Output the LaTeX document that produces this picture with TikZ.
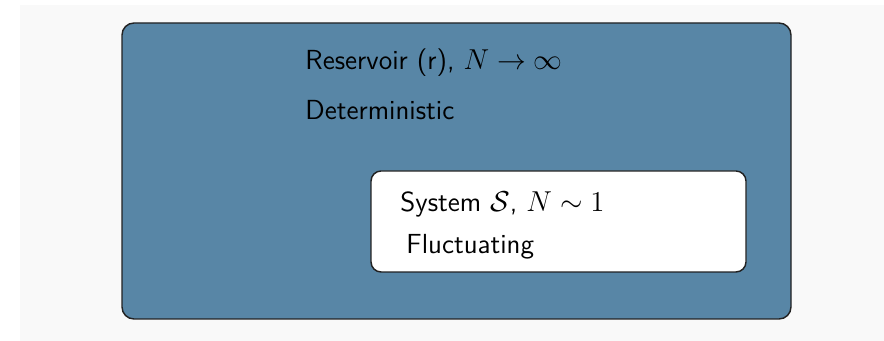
\documentclass[tikz,border=0pt]{standalone}
\usepackage{tikz}
\usepackage{xcolor}

\definecolor{slidegray}{RGB}{249,249,249}
\definecolor{reservoirblue}{RGB}{88,134,166}
\definecolor{edgegray}{RGB}{34,34,34}

\tikzset{
  reservoirbox/.style={draw=edgegray,fill=reservoirblue,line width=0.6pt,rounded corners=5pt},
  systembox/.style={draw=edgegray,fill=white,line width=0.6pt,rounded corners=4.2pt},
  boxtext/.style={anchor=base west,inner sep=0pt,font=\fontsize{11.5pt}{13pt}\selectfont\sffamily}
}

\begin{document}
\begin{tikzpicture}[x=0.4167pt,y=-0.4167pt]
		\useasboundingbox (0,0) rectangle (884,341);
		\fill[slidegray] (20,5) rectangle (884,341);
		% reservoir
		\draw[reservoirbox] (122,23) rectangle (791,319);
		\node[boxtext] (res) at (305,70) {Reservoir (r), $N\to\infty$};
		\node[boxtext] (det) at (305,120) {Deterministic};
		% system
		\draw[systembox] (371,171) rectangle (746,272);
		\node[boxtext] (sys) at (400,212) {System $\mathcal{S}$, $N\sim1$};
		\node[boxtext] (fluc) at (406,254) {Fluctuating};
	\end{tikzpicture}
\end{document}
